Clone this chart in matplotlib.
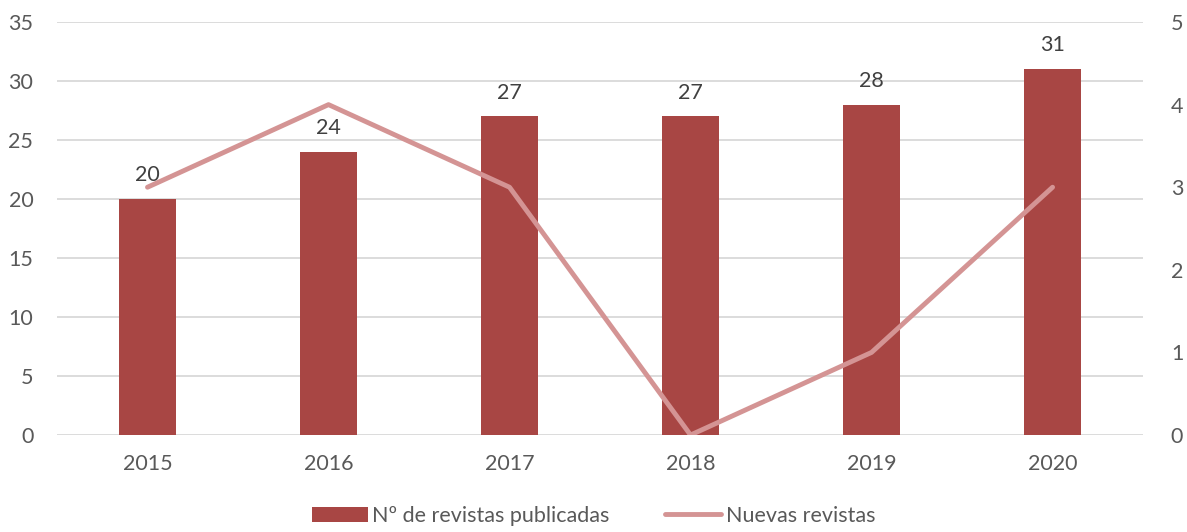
import matplotlib.pyplot as plt
from matplotlib import rcParams

years = ["2015", "2016", "2017", "2018", "2019", "2020"]
revistas_publicadas = [20, 24, 27, 27, 28, 31]
nuevas_revistas = [3, 4, 3, 0, 1, 3]

BAR_COLOR = "#A84644"
LINE_COLOR = "#D49494"
TEXT_COLOR = "#595959"
GRID_COLOR = "#D9D9D9"

rcParams.update({
    "font.family": ["Lato", "DejaVu Sans"],
    "font.size": 15.5,
    "text.color": TEXT_COLOR,
    "xtick.color": TEXT_COLOR,
    "ytick.color": TEXT_COLOR,
})

fig = plt.figure(figsize=(11.87, 5.32), dpi=100)
ax = fig.add_axes([0.048, 0.1823, 0.915, 0.7763])
ax2 = ax.twinx()

x = list(range(len(years)))
bars = ax.bar(x, revistas_publicadas, width=0.315, color=BAR_COLOR,
              label="Nº de revistas publicadas", zorder=2)
ax.set_ylim(0, 35)
ax.set_yticks(range(0, 36, 5))
ax.set_xlim(-0.5, len(years) - 0.5)
ax.set_xticks(x)
ax.set_xticklabels(years)
ax.grid(axis="y", color=GRID_COLOR, linewidth=1.3, zorder=0)
ax.set_axisbelow(True)

line, = ax2.plot(x, nuevas_revistas, color=LINE_COLOR, linewidth=3.5,
                 label="Nuevas revistas", solid_capstyle="round", zorder=3)
ax2.set_ylim(0, 5)
ax2.set_yticks(range(0, 6))

for a in (ax, ax2):
    for s in a.spines.values():
        s.set_visible(False)
    a.tick_params(length=0, labelsize=15.5)
ax.tick_params(axis="y", pad=17)
ax.tick_params(axis="x", pad=14)
ax2.tick_params(axis="y", pad=20)

# labels on bars
for xi, v in zip(x, revistas_publicadas):
    ax2.annotate(str(v), xy=(xi, v / 7.0), xytext=(0, 10), textcoords="offset points",
                 ha="center", va="bottom", fontsize=15.5, color="#404040", zorder=5)

fig.legend([bars, line], ["Nº de revistas publicadas", "Nuevas revistas"],
           loc="lower center", ncol=2, frameon=False, bbox_to_anchor=(0.5, -0.025),
           fontsize=15.5, handlelength=2.6, handletextpad=0.2, columnspacing=2.6)

fig.savefig("out.png", dpi=100)
